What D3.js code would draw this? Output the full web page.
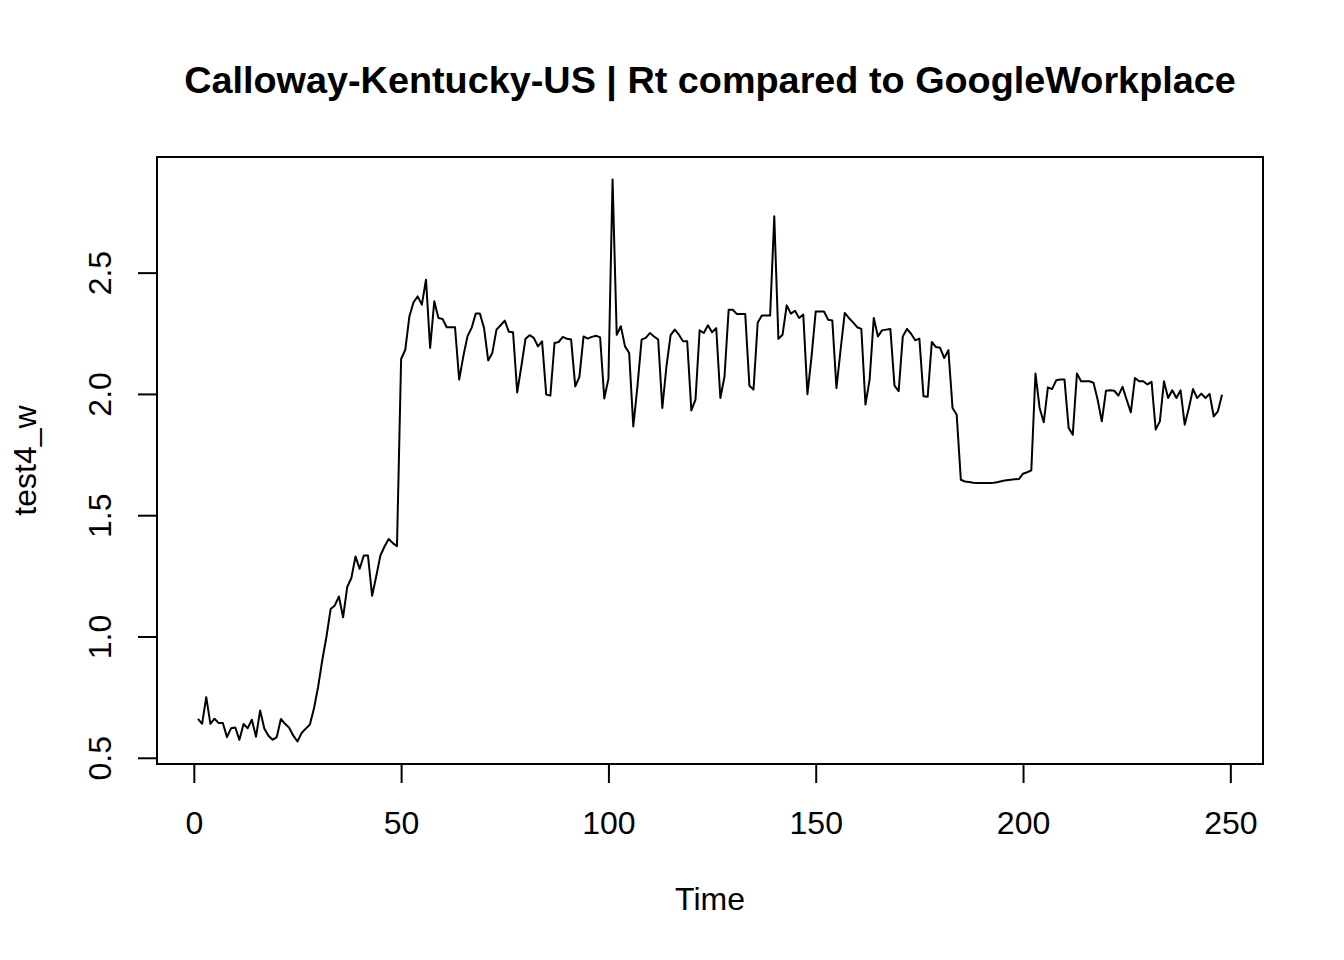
<!DOCTYPE html>
<html>
<head>
<meta charset="utf-8">
<script src="https://cdn.jsdelivr.net/npm/d3@7"></script>
<style>
  body { margin: 0; background: #fff; }
  text { font-family: "Liberation Sans", Arial, sans-serif; fill: #000; }
</style>
</head>
<body>
<div id="chart"></div>
<script>
// series values, Time = 1 .. 248
var rt = [
  0.660, 0.640, 0.750, 0.640, 0.661, 0.643, 0.643, 0.585, 0.622, 0.625,
  0.574, 0.639, 0.622, 0.657, 0.587, 0.695, 0.621, 0.591, 0.574, 0.585,
  0.660, 0.640, 0.624, 0.591, 0.567, 0.602, 0.620, 0.637, 0.705, 0.794,
  0.904, 1.000, 1.113, 1.128, 1.165, 1.079, 1.204, 1.241, 1.330, 1.279,
  1.334, 1.334, 1.168, 1.248, 1.334, 1.371, 1.402, 1.385, 1.372, 2.144,
  2.182, 2.320, 2.378, 2.402, 2.368, 2.471, 2.190, 2.382, 2.313, 2.309,
  2.275, 2.275, 2.275, 2.059, 2.155, 2.237, 2.272, 2.331, 2.331, 2.272,
  2.138, 2.169, 2.265, 2.283, 2.302, 2.256, 2.254, 2.006, 2.114, 2.227,
  2.242, 2.231, 2.196, 2.217, 1.997, 1.993, 2.210, 2.214, 2.235, 2.227,
  2.224, 2.031, 2.070, 2.237, 2.228, 2.235, 2.240, 2.233, 1.981, 2.062,
  2.884, 2.244, 2.279, 2.196, 2.169, 1.866, 2.031, 2.224, 2.231, 2.251,
  2.237, 2.224, 1.942, 2.114, 2.242, 2.265, 2.244, 2.217, 2.217, 1.932,
  1.976, 2.262, 2.251, 2.283, 2.254, 2.271, 1.983, 2.072, 2.347, 2.347,
  2.329, 2.329, 2.329, 2.034, 2.018, 2.293, 2.323, 2.323, 2.323, 2.732,
  2.227, 2.244, 2.365, 2.331, 2.343, 2.313, 2.327, 1.999, 2.155, 2.340,
  2.340, 2.340, 2.306, 2.303, 2.024, 2.182, 2.334, 2.313, 2.295, 2.275,
  2.268, 1.956, 2.059, 2.313, 2.237, 2.262, 2.265, 2.268, 2.034, 2.011,
  2.237, 2.268, 2.248, 2.221, 2.228, 1.990, 1.988, 2.214, 2.193, 2.190,
  2.148, 2.180, 1.942, 1.914, 1.646, 1.639, 1.637, 1.634, 1.633, 1.633,
  1.633, 1.633, 1.634, 1.637, 1.641, 1.644, 1.646, 1.648, 1.649, 1.671,
  1.677, 1.685, 2.084, 1.942, 1.883, 2.027, 2.020, 2.056, 2.059, 2.059,
  1.860, 1.832, 2.084, 2.052, 2.052, 2.052, 2.046, 1.976, 1.887, 2.013,
  2.015, 2.013, 1.993, 2.029, 1.976, 1.924, 2.066, 2.052, 2.052, 2.039,
  2.050, 1.853, 1.887, 2.052, 1.983, 2.015, 1.983, 2.015, 1.873, 1.942,
  2.020, 1.983, 2.001, 1.983, 2.000, 1.907, 1.928, 1.997
];
var time = d3.range(1, rt.length + 1);

var xTicks = [0, 50, 100, 150, 200, 250];
var yTicks = [0.5, 1.0, 1.5, 2.0, 2.5];

var titleText = "Calloway-Kentucky-US | Rt compared to GoogleWorkplace";
var xLabel = "Time";
var yLabel = "test4_w";

var width = 1344, height = 960;
var margin = {top: 157, right: 81, bottom: 196, left: 157};
var pw = width - margin.left - margin.right;
var ph = height - margin.top - margin.bottom;

// R style axis range: data extent padded by 4%
function pad(ext) {
  var d = (ext[1] - ext[0]) * 0.04;
  return [ext[0] - d, ext[1] + d];
}

var x = d3.scaleLinear().domain(pad(d3.extent(time))).range([0, pw]);
var y = d3.scaleLinear().domain(pad(d3.extent(rt))).range([ph, 0]);

var svg = d3.select("#chart").append("svg")
  .attr("width", width)
  .attr("height", height);

var g = svg.append("g")
  .attr("transform", "translate(" + margin.left + "," + margin.top + ")");

var line = d3.line()
  .x(function (d, i) { return x(time[i]); })
  .y(function (d) { return y(d); });

g.append("path")
  .datum(rt)
  .attr("fill", "none")
  .attr("stroke", "#000")
  .attr("stroke-width", 2)
  .attr("stroke-linejoin", "round")
  .attr("d", line);

g.append("rect")
  .attr("width", pw)
  .attr("height", ph)
  .attr("fill", "none")
  .attr("stroke", "#000")
  .attr("stroke-width", 2);

var xAxis = g.append("g")
  .attr("transform", "translate(0," + ph + ")")
  .call(d3.axisBottom(x).tickValues(xTicks).tickSize(19).tickPadding(28)
    .tickFormat(d3.format("d")));

var yAxis = g.append("g")
  .call(d3.axisLeft(y).tickValues(yTicks).tickSize(19)
    .tickFormat(d3.format(".1f")));

[xAxis, yAxis].forEach(function (ax) {
  ax.select(".domain").remove();
  ax.selectAll(".tick line").attr("stroke", "#000").attr("stroke-width", 2);
  ax.selectAll(".tick text")
    .style("font-family", "'Liberation Sans', Arial, sans-serif")
    .style("font-size", "32px")
    .attr("fill", "#000");
});

// y tick labels rotated
yAxis.selectAll(".tick text")
  .attr("x", null).attr("dy", null)
  .attr("text-anchor", "middle")
  .attr("transform", "translate(-46,0) rotate(-90)");

svg.append("text")
  .attr("x", margin.left + pw / 2)
  .attr("y", 93)
  .attr("text-anchor", "middle")
  .style("font-size", "37.8px")
  .style("font-weight", "bold")
  .text(titleText);

svg.append("text")
  .attr("x", margin.left + pw / 2)
  .attr("y", 910)
  .attr("text-anchor", "middle")
  .style("font-size", "32px")
  .text(xLabel);

svg.append("text")
  .attr("transform", "translate(36," + (margin.top + ph / 2) + ") rotate(-90)")
  .attr("text-anchor", "middle")
  .style("font-size", "32px")
  .text(yLabel);
</script>
</body>
</html>
